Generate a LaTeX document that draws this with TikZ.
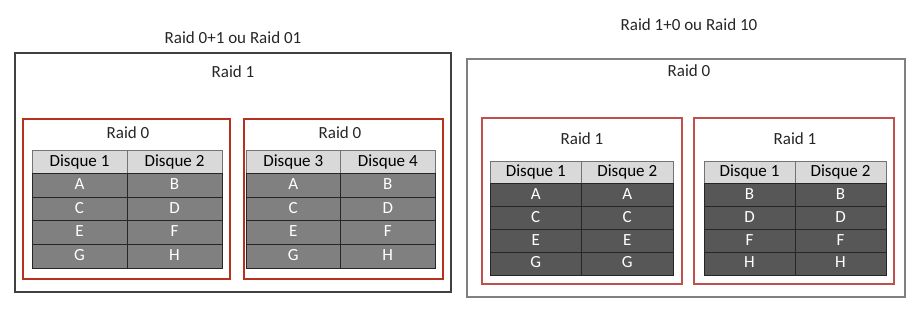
\documentclass[tikz,border=0pt]{standalone}
\usepackage{fontspec}
\setmainfont{Carlito}
\usepackage{tikz}
\usetikzlibrary{positioning}

\definecolor{brick}{HTML}{B5321E}
\definecolor{rosered}{HTML}{C0504D}
\definecolor{hdrgray}{HTML}{D9D9D9}
\definecolor{midgray}{HTML}{808080}
\definecolor{darkgray}{HTML}{575757}

\begin{document}
\begin{tikzpicture}[
    x=1pt, y=-1pt,
    lbl/.style={font=\fontsize{17}{20}\selectfont, inner sep=0pt, text=black!85},
    hdr/.style={draw=black!55, line width=0.8pt, fill=hdrgray, minimum height=23.6pt, inner sep=0pt, text height=12pt, text depth=3.5pt, font=\fontsize{17}{20}\selectfont},
    cell/.style={draw=black!85, line width=0.8pt, fill=midgray, text=white, minimum height=23.6pt, inner sep=0pt, text height=12pt, text depth=3.5pt, font=\fontsize{17}{20}\selectfont},
    dcell/.style={cell, fill=darkgray, minimum height=22.8pt},
    rhdr/.style={hdr, minimum height=22.8pt},
    outer/.style={draw=black!75, line width=2.2pt},
    outerb/.style={draw=black!50, line width=1.5pt},
    grp/.style={draw=brick, line width=2.4pt},
    grpb/.style={draw=rosered, line width=2pt}
]
\useasboundingbox (0,0) rectangle (919,310);

% --- Left: Raid 0+1 ---
\node[lbl] (t01) at (233,38) {Raid 0+1 ou Raid 01};
\draw[outer] (15,53) rectangle (451,292);
\node[lbl] (r1) at (233,72) {Raid 1};
\draw[grp] (23,119) rectangle (230,279);
\draw[grp] (244,119) rectangle (443,279);
\node[lbl] (r0a) at (128,133) {Raid 0};
\node[lbl] (r0b) at (340,133) {Raid 0};

% table 1
\node[hdr, minimum width=95pt] (ah1) at (79.5,161.8) {Disque 1};
\node[hdr, minimum width=95pt] (ah2) at (174.5,161.8) {Disque 2};
\node[cell, minimum width=95pt] (a11) at (79.5,185.4) {A};
\node[cell, minimum width=95pt] (a12) at (174.5,185.4) {B};
\node[cell, minimum width=95pt] (a21) at (79.5,209.0) {C};
\node[cell, minimum width=95pt] (a22) at (174.5,209.0) {D};
\node[cell, minimum width=95pt] (a31) at (79.5,232.6) {E};
\node[cell, minimum width=95pt] (a32) at (174.5,232.6) {F};
\node[cell, minimum width=95pt] (a41) at (79.5,256.2) {G};
\node[cell, minimum width=95pt] (a42) at (174.5,256.2) {H};

% table 2
\node[hdr, minimum width=94.5pt] (bh1) at (293.25,161.8) {Disque 3};
\node[hdr, minimum width=94.5pt] (bh2) at (387.75,161.8) {Disque 4};
\node[cell, minimum width=94.5pt] (b11) at (293.25,185.4) {A};
\node[cell, minimum width=94.5pt] (b12) at (387.75,185.4) {B};
\node[cell, minimum width=94.5pt] (b21) at (293.25,209.0) {C};
\node[cell, minimum width=94.5pt] (b22) at (387.75,209.0) {D};
\node[cell, minimum width=94.5pt] (b31) at (293.25,232.6) {E};
\node[cell, minimum width=94.5pt] (b32) at (387.75,232.6) {F};
\node[cell, minimum width=94.5pt] (b41) at (293.25,256.2) {G};
\node[cell, minimum width=94.5pt] (b42) at (387.75,256.2) {H};

% --- Right: Raid 1+0 ---
\node[lbl] (t10) at (689,25) {Raid 1+0 ou Raid 10};
\draw[outerb] (467,59) rectangle (905,297);
\node[lbl] (r0) at (689,71) {Raid 0};
\draw[grpb] (482,118) rectangle (682,284);
\draw[grpb] (694,118) rectangle (894,284);
\node[lbl] (r1a) at (582,139) {Raid 1};
\node[lbl] (r1b) at (795,139) {Raid 1};

% table 3
\node[rhdr, minimum width=91.5pt] (ch1) at (535.75,172.4) {Disque 1};
\node[rhdr, minimum width=91.5pt] (ch2) at (627.25,172.4) {Disque 2};
\node[dcell, minimum width=91.5pt] (c11) at (535.75,195.2) {A};
\node[dcell, minimum width=91.5pt] (c12) at (627.25,195.2) {A};
\node[dcell, minimum width=91.5pt] (c21) at (535.75,218.0) {C};
\node[dcell, minimum width=91.5pt] (c22) at (627.25,218.0) {C};
\node[dcell, minimum width=91.5pt] (c31) at (535.75,240.8) {E};
\node[dcell, minimum width=91.5pt] (c32) at (627.25,240.8) {E};
\node[dcell, minimum width=91.5pt] (c41) at (535.75,263.6) {G};
\node[dcell, minimum width=91.5pt] (c42) at (627.25,263.6) {G};

% table 4
\node[rhdr, minimum width=91pt] (dh1) at (749.5,172.4) {Disque 1};
\node[rhdr, minimum width=91pt] (dh2) at (840.5,172.4) {Disque 2};
\node[dcell, minimum width=91pt] (d11) at (749.5,195.2) {B};
\node[dcell, minimum width=91pt] (d12) at (840.5,195.2) {B};
\node[dcell, minimum width=91pt] (d21) at (749.5,218.0) {D};
\node[dcell, minimum width=91pt] (d22) at (840.5,218.0) {D};
\node[dcell, minimum width=91pt] (d31) at (749.5,240.8) {F};
\node[dcell, minimum width=91pt] (d32) at (840.5,240.8) {F};
\node[dcell, minimum width=91pt] (d41) at (749.5,263.6) {H};
\node[dcell, minimum width=91pt] (d42) at (840.5,263.6) {H};
\end{tikzpicture}
\end{document}
